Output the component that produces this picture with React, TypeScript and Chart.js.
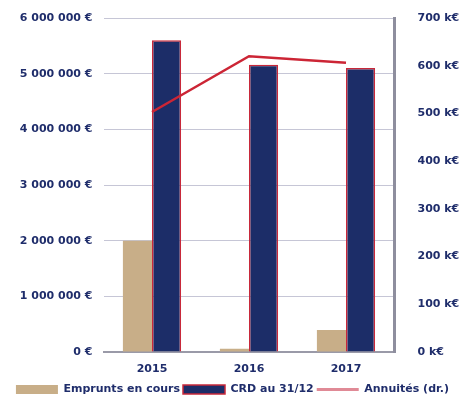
import React, { useEffect, useRef } from "react";
import { Chart, registerables } from "chart.js";

Chart.register(...registerables);

const years = ["2015", "2016", "2017"];
const empruntsEnCours = [2000000, 60000, 395000];
const crdAu3112 = [5600000, 5160000, 5100000];
const annuites = [503000, 620000, 606000];

const leftTicksMax = 6000000;
const rightTicksMax = 700000;

const TEXT = "#1f2d6b";
const FONT = { family: "DejaVu Sans", weight: "bold" as const, size: 11 };

function fmtEuro(v: number): string {
  return String(Math.round(v)).replace(/\B(?=(\d{3})+(?!\d))/g, " ") + " €";
}

export default function App() {
  const ref = useRef<HTMLCanvasElement>(null);
  useEffect(() => {
    const canvas = ref.current!;
    const chart = new Chart(canvas, {
      type: "bar",
      data: {
        labels: years,
        datasets: [
          {
            type: "line",
            label: "Annuités (dr.)",
            data: annuites,
            yAxisID: "y1",
            borderColor: "#cc2535",
            backgroundColor: "#cc2535",
            borderWidth: 2.5,
            pointRadius: 0,
            pointStyle: "line",
            order: 0,
          } as any,
          {
            label: "Emprunts en cours",
            data: empruntsEnCours,
            yAxisID: "y",
            backgroundColor: "#c8ae88",
            borderWidth: 0,
            pointStyle: "rect",
            order: 1,
          },
          {
            label: "CRD au 31/12",
            data: crdAu3112,
            yAxisID: "y",
            backgroundColor: "#1c2d68",
            borderColor: "#c8283a",
            borderWidth: 1.5,
            pointStyle: "rect",
            order: 2,
          },
        ],
      },
      options: {
        responsive: false,
        animation: false,
        layout: { padding: { top: 18, left: 0, right: 0, bottom: 0 } },
        datasets: { bar: { categoryPercentage: 0.6, barPercentage: 1.0 } },
        plugins: {
          tooltip: { enabled: false },
          legend: {
            position: "bottom",
            labels: {
              color: TEXT,
              font: FONT,
              usePointStyle: true,
              pointStyleWidth: 42,
              boxHeight: 9,
              padding: 3,
              sort: (a: any, b: any) => {
                const order = ["Emprunts en cours", "CRD au 31/12", "Annuités (dr.)"];
                return order.indexOf(a.text) - order.indexOf(b.text);
              },
              generateLabels: (c: any) => {
                const items = Chart.defaults.plugins.legend.labels.generateLabels(c);
                items.forEach((it: any) => {
                  if (it.text === "Annuités (dr.)") {
                    it.strokeStyle = "#e08a96";
                    it.lineWidth = 3;
                  }
                  if (it.text === "CRD au 31/12") {
                    it.lineWidth = 1.5;
                  }
                });
                return items;
              },
            },
          },
        },
        scales: {
          x: {
            grid: { display: false, drawTicks: false },
            border: { display: true, color: "#9a9aa8", width: 2 },
            ticks: { color: TEXT, font: FONT, padding: 11 },
            afterFit: (s: any) => {
              s.height = 29;
            },
          } as any,
          y: {
            position: "left",
            min: 0,
            max: leftTicksMax,
            grid: {
              color: "#c6c6d6",
              lineWidth: 1,
              drawTicks: true,
              tickLength: 8,
              tickColor: "rgba(0,0,0,0)",
            },
            border: { display: false },
            ticks: {
              stepSize: 1000000,
              color: TEXT,
              font: FONT,
              padding: 3,
              callback: (v: any) => fmtEuro(Number(v)),
            },
            afterFit: (s: any) => {
              s.width = 103.5;
            },
          } as any,
          y1: {
            position: "right",
            min: 0,
            max: rightTicksMax,
            grid: {
              drawOnChartArea: false,
              drawTicks: true,
              tickLength: 20,
              tickColor: "rgba(0,0,0,0)",
            },
            border: { display: true, color: "#8e8e9e", width: 3 },
            ticks: {
              stepSize: 100000,
              color: TEXT,
              font: FONT,
              padding: 3,
              callback: (v: any) => Math.round(Number(v) / 1000) + " k€",
            },
            afterFit: (s: any) => {
              s.width = 70.5;
            },
          } as any,
        },
      },
    });
    return () => chart.destroy();
  }, []);
  return (
    <div style={{ position: "fixed", left: 0, top: 0, width: 465, height: 405, background: "#fff" }}>
      <canvas ref={ref} width={465} height={405} style={{ display: "block" }} />
    </div>
  );
}
